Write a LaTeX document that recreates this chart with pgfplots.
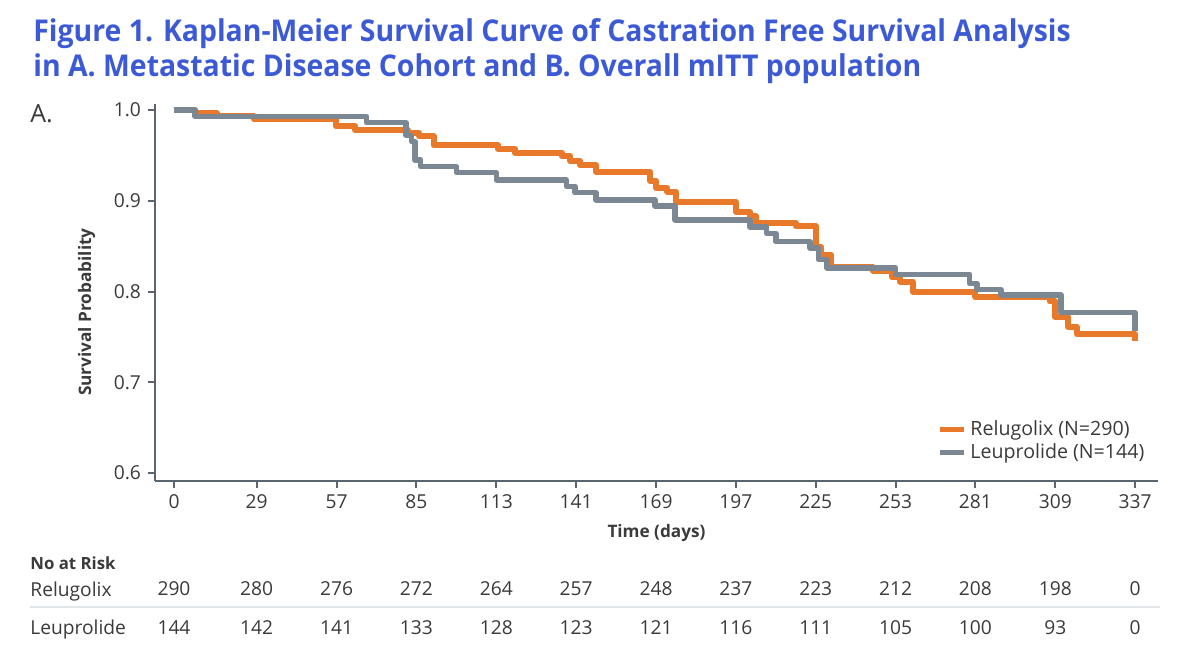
\documentclass[border=0pt]{standalone}
\usepackage{fontspec}
\setmainfont{Open Sans}
\newfontfamily\titlefont{Open Sans}[FakeStretch=0.947]
\usepackage{pgfplots}
\pgfplotsset{compat=1.18}

\definecolor{titleblue}{HTML}{3D5AD6}
\definecolor{relu}{HTML}{E8782A}
\definecolor{leup}{HTML}{7B8894}
\definecolor{axisgray}{HTML}{5B6570}
\definecolor{txt}{HTML}{3A3A3A}
\definecolor{rule}{HTML}{E2E6EA}

\tikzset{risk/.style={anchor=base,inner sep=0,text=txt,font=\fontsize{9.6pt}{11pt}\selectfont}}

\begin{document}
\begin{tikzpicture}[x=0.5pt,y=-0.5pt]
\path[use as bounding box] (0,0) rectangle (1200,658);

% title
\node[anchor=base west,inner sep=0,text=titleblue,font=\titlefont\bfseries\fontsize{15pt}{17pt}\selectfont]
  at (33,42) {Figure 1. Kaplan-Meier Survival Curve of Castration Free Survival Analysis};
\node[anchor=base west,inner sep=0,text=titleblue,font=\titlefont\bfseries\fontsize{15pt}{17pt}\selectfont]
  at (33,77) {in A. Metastatic Disease Cohort and B. Overall mITT population};
\node[anchor=base west,inner sep=0,text=txt,font=\fontsize{12.5pt}{14pt}\selectfont] at (30,123) {A.};

\begin{axis}[
  at={(77.5pt,-240.5pt)}, anchor=south west,
  scale only axis, width=501.5pt, height=188.5pt,
  xmin=-6.66, xmax=345, ymin=0.5912, ymax=1.0066,
  axis x line*=bottom, axis y line*=left,
  axis line style={axisgray, line width=1pt, -},
  tick style={axisgray, line width=1pt},
  tick align=outside, major tick length=3.5pt,
  xtick={0,29,57,85,113,141,169,197,225,253,281,309,337},
  ytick={0.6,0.7,0.8,0.9,1.0},
  yticklabel style={/pgf/number format/.cd,fixed,fixed zerofill,precision=1},
  /pgf/number format/assume math mode=true,
  ticklabel style={font=\fontsize{9.6pt}{11pt}\selectfont, text=txt},
  xlabel={Time (days)}, ylabel={Survival Probability},
  label style={font=\bfseries\fontsize{8.6pt}{10pt}\selectfont, text=txt},
  xlabel style={yshift=-1pt},
  ylabel style={at={(ticklabel cs:0.448,2.5pt)}},
  clip=false,
  legend cell align=left,
  legend style={draw=none, fill=none, at={(0.7795,0.173)}, anchor=north west,
    font=\fontsize{9.8pt}{11pt}\selectfont, text=txt, row sep=-1.2pt, inner sep=0pt},
  legend image code/.code={\draw[#1,line width=2.6pt] (0pt,0pt) -- (12pt,0pt);},
]
% Relugolix
\addplot[const plot, relu, line width=3pt, line join=round] coordinates {
 (0,1.000) (7.4,0.9965) (15,0.993) (28,0.990) (56.7,0.982) (63.5,0.978)
 (82,0.975) (86,0.971) (91,0.961) (113.6,0.957) (119.6,0.953) (136,0.949)
 (139,0.944) (142.4,0.939) (148,0.932) (167,0.922) (169,0.914) (173,0.910)
 (176,0.899) (197,0.888) (202,0.883) (204,0.876) (218,0.872) (225,0.849)
 (227,0.840) (230.5,0.827) (245,0.823) (251.6,0.816) (254.6,0.811) (259,0.800)
 (281,0.794) (307,0.789) (309,0.772) (313.5,0.761) (316.5,0.753) (337,0.745)
};
\addlegendentry{Relugolix (N=290)}
% Leuprolide
\addplot[const plot, leup, line width=2.7pt, line join=round] coordinates {
 (0,1.000) (7.4,0.993) (67.5,0.986) (81.4,0.972) (83.3,0.965) (84.5,0.945)
 (86.5,0.938) (99,0.931) (113,0.923) (137.6,0.916) (140.6,0.909) (148,0.901)
 (168.7,0.894) (175.7,0.879) (202,0.871) (207.8,0.864) (211,0.855) (223,0.848)
 (226,0.835) (229,0.826) (253,0.819) (279,0.809) (281.5,0.802) (290,0.796)
 (311,0.777) (337,0.777) (337,0.756)
};
\addlegendentry{Leuprolide (N=144)}

% numbers at risk, Relugolix row
\node[risk] at (axis cs:0,0.4645) {290};
\node[risk] at (axis cs:29,0.4645) {280};
\node[risk] at (axis cs:57,0.4645) {276};
\node[risk] at (axis cs:85,0.4645) {272};
\node[risk] at (axis cs:113,0.4645) {264};
\node[risk] at (axis cs:141,0.4645) {257};
\node[risk] at (axis cs:169,0.4645) {248};
\node[risk] at (axis cs:197,0.4645) {237};
\node[risk] at (axis cs:225,0.4645) {223};
\node[risk] at (axis cs:253,0.4645) {212};
\node[risk] at (axis cs:281,0.4645) {208};
\node[risk] at (axis cs:309,0.4645) {198};
\node[risk] at (axis cs:337,0.4645) {0};
% numbers at risk, Leuprolide row
\node[risk] at (axis cs:0,0.4226) {144};
\node[risk] at (axis cs:29,0.4226) {142};
\node[risk] at (axis cs:57,0.4226) {141};
\node[risk] at (axis cs:85,0.4226) {133};
\node[risk] at (axis cs:113,0.4226) {128};
\node[risk] at (axis cs:141,0.4226) {123};
\node[risk] at (axis cs:169,0.4226) {121};
\node[risk] at (axis cs:197,0.4226) {116};
\node[risk] at (axis cs:225,0.4226) {111};
\node[risk] at (axis cs:253,0.4226) {105};
\node[risk] at (axis cs:281,0.4226) {100};
\node[risk] at (axis cs:309,0.4226) {93};
\node[risk] at (axis cs:337,0.4226) {0};
\end{axis}

% risk table labels
\node[anchor=base west,inner sep=0,text=txt,font=\bfseries\fontsize{8.4pt}{10pt}\selectfont] at (30,569) {No at Risk};
\node[anchor=base west,inner sep=0,text=txt,font=\fontsize{9.6pt}{11pt}\selectfont] at (30,596) {Relugolix};
\node[anchor=base west,inner sep=0,text=txt,font=\fontsize{9.6pt}{11pt}\selectfont] at (30,634) {Leuprolide};
\draw[rule, line width=1pt] (30,607) -- (1160,607);
\end{tikzpicture}
\end{document}
